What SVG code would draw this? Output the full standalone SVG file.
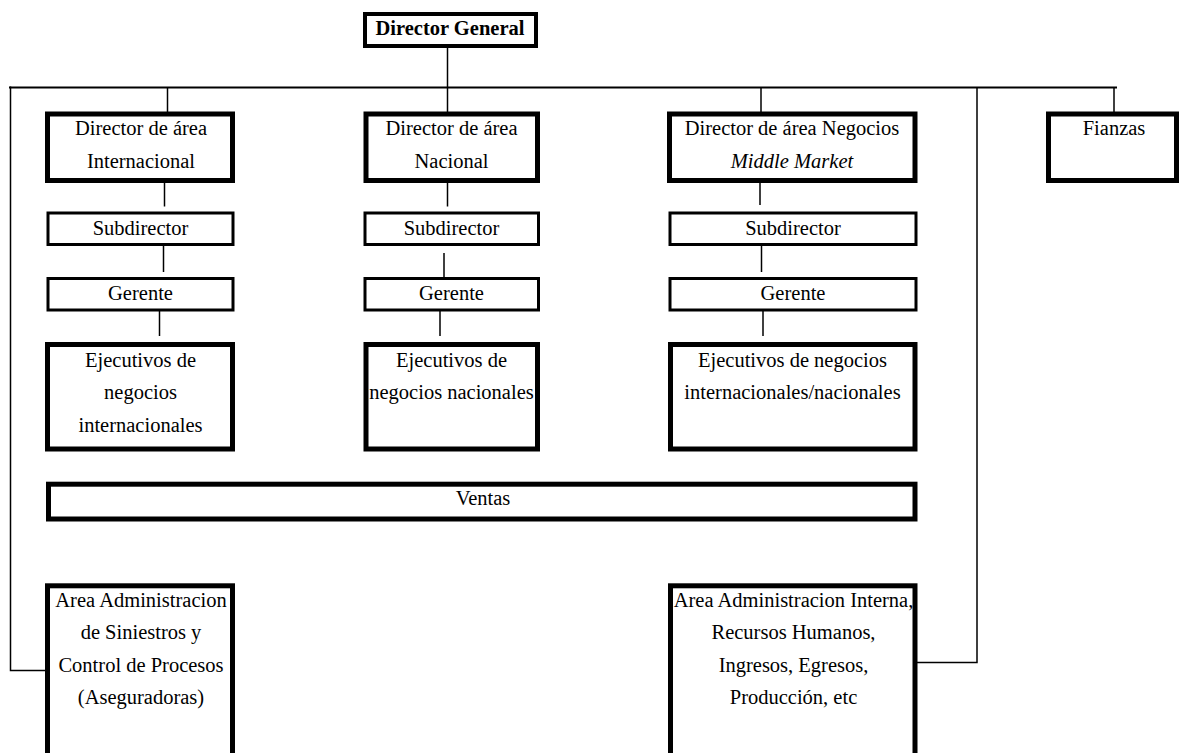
<svg xmlns="http://www.w3.org/2000/svg" width="1180" height="753" viewBox="0 0 1180 753">
  <style>
    .bg { fill: #ffffff; }
    .box { fill: #ffffff; stroke: #000000; stroke-width: 5; }
    .box-thin { fill: #ffffff; stroke: #000000; stroke-width: 3; }
    .box-top { fill: #ffffff; stroke: #000000; stroke-width: 4; }
    .lbl { font-family: "Liberation Serif", "Times New Roman", serif; font-size: 20.5px; fill: #000000; text-anchor: middle; }
    .bold { font-weight: bold; }
    .ital { font-style: italic; }
    .wire { fill: none; stroke: #000000; stroke-width: 1.5; }
    .trunk { fill: none; stroke: #000000; stroke-width: 2.2; }
  </style>
  <rect class="bg" x="0" y="0" width="1180" height="753"/>

  <g id="connectors">
    <!-- main horizontal bus -->
    <line class="trunk" x1="9" y1="87.5" x2="1117" y2="87.5"/>
    <!-- director general down to bus and to Nacional -->
    <line class="wire" x1="447.5" y1="48" x2="447.5" y2="112"/>
    <!-- drops from bus -->
    <line class="wire" x1="167.5" y1="87" x2="167.5" y2="112"/>
    <line class="wire" x1="761" y1="87" x2="761" y2="112"/>
    <line class="wire" x1="1114" y1="87" x2="1114" y2="112"/>
    <!-- left feeder to Area Administracion de Siniestros -->
    <polyline class="wire" points="10.5,86.5 10.5,670.5 45,670.5"/>
    <!-- right feeder to Area Administracion Interna -->
    <polyline class="wire" points="977,87 977,662.5 917,662.5"/>
    <!-- Internacional column -->
    <line class="wire" x1="164.5" y1="183" x2="164.5" y2="206.5"/>
    <line class="wire" x1="163.5" y1="246" x2="163.5" y2="272"/>
    <line class="wire" x1="159.5" y1="311" x2="159.5" y2="336"/>
    <!-- Nacional column -->
    <line class="wire" x1="447.5" y1="183" x2="447.5" y2="206.5"/>
    <line class="wire" x1="444" y1="253" x2="444" y2="277"/>
    <line class="wire" x1="440" y1="311" x2="440" y2="336"/>
    <!-- Middle Market column -->
    <line class="wire" x1="760" y1="183" x2="760" y2="205"/>
    <line class="wire" x1="761.5" y1="246" x2="761.5" y2="272"/>
    <line class="wire" x1="763" y1="311" x2="763" y2="336"/>
  </g>

  <g id="director-general">
    <rect class="box-top" x="365" y="14" width="171" height="32"/>
    <text class="lbl bold" x="450" y="35">Director General</text>
  </g>

  <g id="dir-internacional">
    <rect class="box" x="47.5" y="114" width="185" height="66.5"/>
    <text class="lbl" x="141" y="135">Director de área</text>
    <text class="lbl" x="141" y="168">Internacional</text>
  </g>
  <g id="dir-nacional">
    <rect class="box" x="366" y="114" width="171.5" height="66.5"/>
    <text class="lbl" x="451.5" y="135">Director de área</text>
    <text class="lbl" x="451.5" y="168">Nacional</text>
  </g>
  <g id="dir-middle-market">
    <rect class="box" x="669.5" y="114" width="245.5" height="66.5"/>
    <text class="lbl" x="792" y="135">Director de área Negocios</text>
    <text class="lbl ital" x="792" y="168">Middle Market</text>
  </g>
  <g id="fianzas">
    <rect class="box" x="1048.5" y="114" width="128" height="66.5"/>
    <text class="lbl" x="1114" y="135">Fianzas</text>
  </g>

  <g id="sub-internacional">
    <rect class="box-thin" x="48" y="213" width="185" height="31.5"/>
    <text class="lbl" x="140.5" y="235">Subdirector</text>
  </g>
  <g id="sub-nacional">
    <rect class="box-thin" x="365" y="213" width="173.5" height="31.5"/>
    <text class="lbl" x="451.5" y="235">Subdirector</text>
  </g>
  <g id="sub-middle-market">
    <rect class="box-thin" x="670" y="213" width="246" height="31.5"/>
    <text class="lbl" x="793" y="235">Subdirector</text>
  </g>

  <g id="ger-internacional">
    <rect class="box-thin" x="48" y="278.5" width="185" height="31.5"/>
    <text class="lbl" x="140.5" y="300">Gerente</text>
  </g>
  <g id="ger-nacional">
    <rect class="box-thin" x="365" y="278.5" width="173.5" height="31.5"/>
    <text class="lbl" x="451.5" y="300">Gerente</text>
  </g>
  <g id="ger-middle-market">
    <rect class="box-thin" x="670" y="278.5" width="246" height="31.5"/>
    <text class="lbl" x="793" y="300">Gerente</text>
  </g>

  <g id="ej-internacional">
    <rect class="box" x="47.5" y="344.5" width="185" height="104.5"/>
    <text class="lbl" x="140.5" y="366.5">Ejecutivos de</text>
    <text class="lbl" x="140.5" y="399">negocios</text>
    <text class="lbl" x="140.5" y="431.5">internacionales</text>
  </g>
  <g id="ej-nacional">
    <rect class="box" x="366" y="344.5" width="171.5" height="104.5"/>
    <text class="lbl" x="451.5" y="366.5">Ejecutivos de</text>
    <text class="lbl" x="451.5" y="399">negocios nacionales</text>
  </g>
  <g id="ej-middle-market">
    <rect class="box" x="670.5" y="344.5" width="244.5" height="104.5"/>
    <text class="lbl" x="792.5" y="366.5">Ejecutivos de negocios</text>
    <text class="lbl" x="792.5" y="398.5">internacionales/nacionales</text>
  </g>

  <g id="ventas">
    <rect class="box" x="48.5" y="484.2" width="866.5" height="34.8"/>
    <text class="lbl" x="483" y="505">Ventas</text>
  </g>

  <g id="area-siniestros">
    <rect class="box" x="47.5" y="585.8" width="185" height="200"/>
    <text class="lbl" x="141" y="606.5">Area Administracion</text>
    <text class="lbl" x="141" y="639">de Siniestros y</text>
    <text class="lbl" x="141" y="671.5">Control de Procesos</text>
    <text class="lbl" x="141" y="704">(Aseguradoras)</text>
  </g>
  <g id="area-interna">
    <rect class="box" x="670.5" y="585.8" width="244.5" height="200"/>
    <text class="lbl" x="793.5" y="606.5">Area Administracion Interna,</text>
    <text class="lbl" x="793.5" y="639">Recursos Humanos,</text>
    <text class="lbl" x="793.5" y="671.5">Ingresos, Egresos,</text>
    <text class="lbl" x="793.5" y="704">Producción, etc</text>
  </g>
</svg>
